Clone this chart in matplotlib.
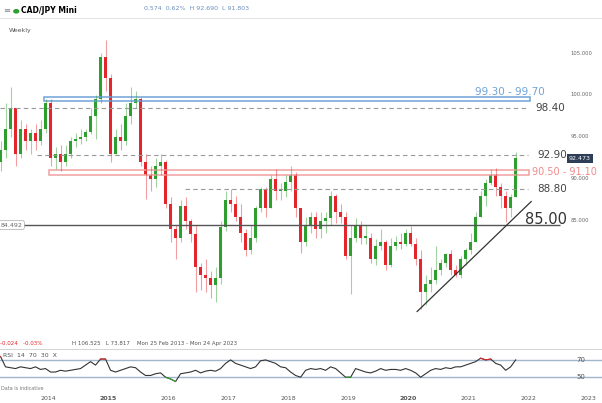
import matplotlib
matplotlib.use("Agg")
import matplotlib.pyplot as plt
import numpy as np

# monthly candles, Feb 2013 .. Oct 2021
start_year = 2013
start_month = 2
closes = [92, 93.5, 96, 98.5, 93, 96, 94.5, 95.5, 94.5, 96, 99,
          92.5, 93, 92, 93, 94.5, 94.8, 95, 95.6, 97.5, 99.5, 104.5, 102,
          93, 95, 94.5, 97.5, 99, 99.5, 92, 90.5, 90, 91.5, 92, 87,
          84, 83, 86.8, 85, 83.4, 79.5, 78.5, 78.2, 77.3, 78.2, 84.3, 87.5,
          87, 85.5, 83.5, 81.5, 83, 86.5, 88.8, 86.5, 90, 88.5, 88.5, 89.6,
          90.5, 86.5, 82.5, 84.5, 85.5, 84, 85, 85.3, 88, 86, 85.5, 80.8,
          83, 84.5, 83, 83, 80.5, 82, 82.5, 79.8, 82, 82.5, 82.3, 83.5,
          82.2, 80.5, 76.5, 77.5, 78, 79.2, 80, 81, 79.2, 78.5, 80.5, 81.5,
          82.5, 85.5, 88, 89.5, 90.5, 89, 88, 86.5, 87.9, 92.47]
highs = [93.5, 94.5, 99, 101, 98.5, 97, 96.5, 96, 96.5, 97, 99.5,
         99.5, 93.8, 94, 94, 95, 95.5, 96, 96, 98.5, 100, 105, 106.5,
         102.5, 96, 96.5, 99, 101, 100.5, 99.8, 93, 91.5, 92.5, 93, 92.2,
         87.8, 84.5, 87.5, 87.8, 85.2, 84.5, 80, 80.5, 79, 79.5, 85, 88.5,
         88.8, 88, 87, 84, 84.5, 86.8, 89, 89, 90.5, 91.2, 89.5, 90.5,
         91.5, 90.8, 86.5, 85.5, 86, 86, 86, 86, 88.5, 88.2, 87, 86,
         84.5, 85.3, 85, 84.5, 83.5, 82.8, 84, 82.7, 83, 83.2, 83.5, 84,
         84.4, 83, 81.5, 78.5, 79.5, 82, 80.5, 81.2, 81.5, 79.8, 80.8, 81.8,
         83.5, 86, 88.5, 90, 91.2, 91.3, 89.5, 88.5, 88.2, 93.2]
lows = [89.5, 91, 92.5, 95, 91.5, 92.5, 93.5, 93, 93.5, 94, 95.5,
        91.5, 91.2, 91, 91.5, 92.5, 93.8, 94.2, 94.5, 95.3, 94.8, 99, 100.5,
        92, 93, 93.5, 94, 96.5, 98.5, 91.5, 87.6, 88.5, 89, 90.5, 86.5,
        82.5, 80.5, 82.5, 84, 82.5, 76.5, 76.8, 76.5, 75.8, 75.3, 77.5, 83.8,
        86, 85, 82.5, 80.8, 81, 82.5, 86, 85.5, 86.5, 87.5, 87.5, 87.8,
        88.5, 85.5, 81.2, 82, 83.5, 83, 83, 83.5, 84.5, 84.8, 84.8, 80.5,
        76.3, 82.5, 82.3, 82.2, 80, 79.8, 81.5, 79.2, 79.5, 81.5, 81.6, 82,
        82, 79.8, 74.5, 75, 76.5, 77.5, 78.5, 79.5, 78.5, 78.3, 78.2, 79.8,
        81, 82.5, 85.5, 86.8, 89.3, 88, 86.5, 84.9, 85.5, 87.9]
first_open = 91.0
rsi = [73, 74, 62, 61, 60, 62, 61, 60, 62, 59, 60,
       56, 56, 58, 57, 58, 59, 60, 64, 68, 64, 71, 71,
       58, 56, 58, 60, 62, 61, 56, 52, 52, 54, 55, 50,
       48, 45, 54, 55, 56, 58, 55, 57, 58, 57, 60, 66,
       70, 66, 64, 62, 60, 62, 69, 70, 68, 66, 62, 61,
       56, 52, 50, 58, 60, 59, 60, 58, 62, 60, 55, 50,
       50, 60, 58, 56, 55, 57, 60, 58, 59, 59, 58, 60,
       58, 55, 50, 54, 58, 60, 59, 61, 60, 62, 62, 64,
       66, 68, 72, 70, 71, 66, 64, 58, 62, 70]

years = list(range(2014, 2024))
levels = [98.40, 92.90, 88.80]
zones = [(99.30, 99.70), (90.50, 91.10)]

GREEN = "#2e9e2e"
RED = "#e3262b"
X0, X1 = 2013.2, 2023.23

fig = plt.figure(figsize=(6.02, 4.03), dpi=100)
ax = fig.add_axes([0, 68 / 403, 1, 295 / 403])
ax.set_xlim(X0, X1)
ax.set_ylim(71.4, 106.55)
ax.axis("off")

t = np.array([start_year + (start_month - 1 + i + 0.5) / 12 for i in range(len(closes))])
opens = [first_open] + closes[:-1]
for x, o, h, l, c in zip(t, opens, highs, lows, closes):
    col = GREEN if c >= o else RED
    ax.vlines(x, l, h, color=col, lw=0.8, alpha=0.45)
    ax.bar(x, abs(c - o) if abs(c - o) > 0.15 else 0.15, bottom=min(o, c),
           width=0.045, color=col, linewidth=0)

# levels
ax.hlines(84.5, X0, 2022.53, color="#555555", lw=1.0)
ax.hlines(levels[0], X0, 2022.0, color="#999999", lw=0.8, ls=(0, (4, 3)))
ax.hlines(levels[1], 2013.82, 2022.0, color="#999999", lw=0.8, ls=(0, (4, 3)))
ax.hlines(levels[2], 2016.28, 2022.0, color="#999999", lw=0.8, ls=(0, (4, 3)))
ax.add_patch(plt.Rectangle((2013.93, zones[0][0]), 8.1, zones[0][1] - zones[0][0],
                           fill=False, ec="#6fa3d8", lw=1.1))
ax.add_patch(plt.Rectangle((2014.02, zones[1][0]), 8.0, zones[1][1] - zones[1][0],
                           fill=False, ec="#f0a0a0", lw=1.1))
ax.plot([2020.15, 2022.05], [74.2, 87.3], color="#333333", lw=0.9)

ax.text(2021.12, 100.4, "99.30 - 99.70", color="#6fa3d8", fontsize=7.5, va="center")
ax.text(2022.12, 98.4, "98.40", color="#444444", fontsize=7.5, va="center")
ax.text(2022.15, 92.9, "92.90", color="#444444", fontsize=7.5, va="center")
ax.text(2022.06, 90.8, "90.50 - 91.10", color="#f08a8a", fontsize=7, va="center")
ax.text(2022.15, 88.8, "88.80", color="#444444", fontsize=7.5, va="center")
ax.text(2021.95, 85.2, "85.00", color="#333333", fontsize=10.5, va="center")
for p in [105, 100, 95, 90, 85]:
    ax.text(2022.7, p, "%.3f" % p, color="#666666", fontsize=3.8, va="center")
ax.text(2022.68, 92.47, "92.473", color="white", fontsize=4.5, va="center",
        bbox=dict(boxstyle="square,pad=0.3", fc="#2f3e57", ec="none"))
ax.text(2013.21, 84.5, "84.492", color="#666666", fontsize=4.5, va="center",
        bbox=dict(boxstyle="round,pad=0.3", fc="white", ec="#aaaaaa", lw=0.5))

# RSI panel
rx = fig.add_axes([0, 18 / 403, 1, 32 / 403])
rx.set_xlim(X0, X1)
rx.set_ylim(41, 78)
rx.axis("off")
rx.axhline(70, color="#9fb6cc", lw=1.0)
rx.axhline(50, color="#9fb6cc", lw=1.0)
r = np.array(rsi, dtype=float)
rx.plot(t, r, color="#333333", lw=0.8)
rx.plot(t, np.where(r >= 70, r, np.nan), color=RED, lw=0.8)
rx.plot(t, np.where(r <= 50, r, np.nan), color=GREEN, lw=0.8)
rx.text(2022.8, 70, "70", fontsize=5, color="#555555", va="center")
rx.text(2022.8, 50, "50", fontsize=5, color="#555555", va="center")

# texts and frame
fig.text(0.035, 0.985, "CAD/JPY Mini", fontsize=5.5, fontweight="bold", va="top")
fig.text(0.005, 0.985, "\u2261", fontsize=6, color="#888888", va="top")
fig.add_artist(plt.Circle((0.027, 0.972), 0.004, color="#2e9e2e", transform=fig.transFigure))
fig.text(0.24, 0.985, "0.574  0.62%  H 92.690  L 91.803", fontsize=4.5, color="#6a8fc0", va="top")
fig.add_artist(plt.Line2D([0, 1], [0.955, 0.955], color="#dddddd", lw=0.6))
fig.text(0.015, 0.93, "Weekly", fontsize=4.5, color="#555555", va="top")
fig.text(0.0, 0.147, "-0.024   -0.03%", fontsize=4, color="#e3262b", va="center")
fig.text(0.12, 0.147, "H 106.525   L 73.817    Mon 25 Feb 2013 - Mon 24 Apr 2023",
         fontsize=4, color="#555555", va="center")
fig.add_artist(plt.Line2D([0, 1], [0.133, 0.133], color="#cccccc", lw=0.6))
fig.text(0.005, 0.118, "RSI  14  70  30  X", fontsize=4.5, color="#555555", va="center")
fig.text(0.002, 0.037, "Data is indicative", fontsize=3.5, color="#777777", va="center")
for y in years:
    fx = (y - X0) / (X1 - X0)
    fig.text(fx, 0.012, str(y), fontsize=4.5, color="#555555", ha="center", va="center",
             fontweight="bold" if y in (2015, 2020) else "normal")

fig.savefig("out.png", dpi=100)
